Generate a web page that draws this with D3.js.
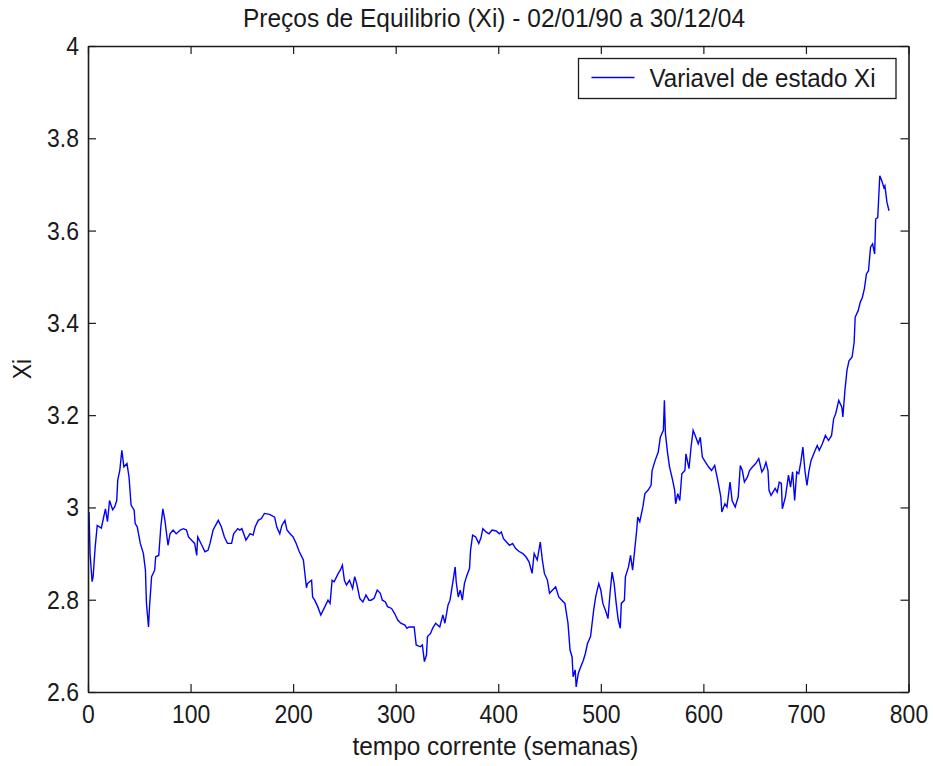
<!DOCTYPE html>
<html>
<head>
<meta charset="utf-8">
<script src="https://cdn.jsdelivr.net/npm/d3@7"></script>
<style>
  html, body { margin: 0; padding: 0; background: #fff; }
  #chart { width: 933px; height: 766px; }
  text { font-family: "Liberation Sans", Arial, sans-serif; }
</style>
</head>
<body>
<div id="chart"></div>
<script>
// semana (eixo x) e valor de Xi
const weeks = [0,1,2,4,5,7,9,13,15,17,19,21,24,26,28,29,31,33,35,38,40,42,45,46,48,51,54,56,57,59,60,62,65,66,69,71,73,75,78,80,83,86,90,93,96,98,101,104,106,107,111,114,117,119,122,127,130,133,136,140,142,146,148,150,153,154,158,161,163,166,169,172,177,182,184,187,189,192,194,197,200,203,206,210,213,214,216,218,219,221,224,227,231,234,236,238,240,244,246,248,250,252,255,258,260,262,265,268,271,274,276,279,282,285,287,290,292,296,299,302,305,309,311,313,318,320,324,326,328,330,331,334,336,339,343,346,348,351,353,355,356,358,359,361,363,365,367,369,372,373,375,378,381,383,385,388,391,394,398,401,403,405,408,411,414,417,420,424,427,430,433,435,438,441,443,445,448,450,453,456,459,462,465,468,470,472,473,475,476,478,481,483,485,487,490,493,495,498,500,502,505,507,509,511,513,515,517,519,520,523,524,527,529,531,533,535,536,538,541,543,546,549,550,553,556,558,561,562,563,565,567,570,572,573,575,577,579,582,583,586,588,590,592,595,597,599,602,605,608,611,614,617,618,621,623,626,628,631,634,636,638,640,643,645,648,651,654,657,659,661,663,664,666,670,672,674,676,677,680,683,685,687,689,691,693,695,697,699,701,703,705,709,711,713,716,719,722,725,727,729,732,735,736,738,740,742,745,747,748,751,753,755,757,759,761,763,765,767,768,770,772,774,776,777,779,781];
const xi = [2.96,2.99,2.90,2.839,2.85,2.914,2.961,2.955,2.976,2.997,2.969,3.015,2.995,3.001,3.015,3.059,3.080,3.124,3.088,3.095,3.066,3.005,2.994,2.965,2.958,2.922,2.900,2.864,2.792,2.741,2.785,2.850,2.864,2.893,2.896,2.958,2.997,2.972,2.918,2.943,2.951,2.943,2.951,2.954,2.951,2.936,2.929,2.922,2.896,2.936,2.918,2.904,2.907,2.922,2.951,2.972,2.958,2.936,2.922,2.922,2.943,2.954,2.951,2.954,2.936,2.929,2.943,2.940,2.958,2.972,2.976,2.987,2.985,2.979,2.958,2.943,2.961,2.972,2.951,2.943,2.936,2.922,2.904,2.886,2.826,2.835,2.839,2.842,2.806,2.799,2.785,2.767,2.785,2.799,2.792,2.842,2.839,2.857,2.864,2.875,2.842,2.832,2.842,2.824,2.850,2.835,2.803,2.795,2.810,2.799,2.799,2.803,2.821,2.814,2.799,2.795,2.785,2.781,2.770,2.756,2.749,2.745,2.738,2.741,2.741,2.702,2.698,2.702,2.666,2.680,2.720,2.727,2.738,2.749,2.741,2.767,2.749,2.788,2.799,2.828,2.842,2.871,2.839,2.806,2.821,2.799,2.835,2.850,2.868,2.907,2.940,2.936,2.922,2.933,2.954,2.947,2.943,2.951,2.949,2.943,2.947,2.933,2.925,2.918,2.922,2.911,2.905,2.900,2.893,2.882,2.857,2.900,2.886,2.925,2.886,2.857,2.842,2.814,2.821,2.828,2.806,2.799,2.792,2.749,2.691,2.676,2.633,2.648,2.611,2.640,2.658,2.669,2.684,2.705,2.720,2.777,2.806,2.835,2.821,2.792,2.774,2.759,2.814,2.860,2.835,2.792,2.756,2.738,2.792,2.799,2.850,2.871,2.896,2.864,2.907,2.951,2.979,2.969,3.001,3.030,3.037,3.048,3.080,3.102,3.120,3.152,3.167,3.232,3.160,3.120,3.088,3.059,3.037,3.008,3.030,3.015,3.073,3.080,3.116,3.084,3.131,3.167,3.156,3.138,3.152,3.109,3.098,3.088,3.080,3.091,3.059,3.023,2.990,3.008,3.001,3.055,3.015,3.001,3.023,3.091,3.080,3.055,3.066,3.080,3.088,3.095,3.106,3.077,3.084,3.098,3.080,3.037,3.026,3.041,3.033,3.055,3.052,2.997,3.023,3.070,3.044,3.077,3.015,3.077,3.073,3.098,3.131,3.080,3.048,3.080,3.102,3.124,3.134,3.124,3.138,3.156,3.145,3.156,3.192,3.203,3.232,3.217,3.196,3.253,3.297,3.318,3.326,3.358,3.412,3.427,3.445,3.455,3.474,3.506,3.513,3.564,3.571,3.549,3.625,3.628,3.719,3.708,3.693,3.697,3.661,3.643];

const xTicks = [0, 100, 200, 300, 400, 500, 600, 700, 800];
const yTicks = [2.6, 2.8, 3, 3.2, 3.4, 3.6, 3.8, 4];

const title = 'Preços de Equilibrio (Xi) - 02/01/90 a 30/12/04';
const xLabel = 'tempo corrente (semanas)';
const yLabel = 'Xi';
const legendLabel = 'Variavel de estado Xi';

function drawChart() {
  const W = 933, H = 766;
  const m = { top: 46, right: 24.5, bottom: 74, left: 88 };
  const w = W - m.left - m.right, h = H - m.top - m.bottom;
  const ink = '#1a1a1a';
  const tall = 'scale(1,1.15)'; // o texto original é mais alto que largo

  const svg = d3.select('#chart').append('svg')
    .attr('width', W).attr('height', H)
    .attr('viewBox', `0 0 ${W} ${H}`);
  svg.append('rect').attr('width', W).attr('height', H).attr('fill', '#fff');

  const g = svg.append('g').attr('transform', `translate(${m.left},${m.top})`);

  const x = d3.scaleLinear().domain([0, 800]).range([0, w]);
  const y = d3.scaleLinear().domain([2.6, 4]).range([h, 0]);

  const data = weeks.map((wk, i) => ({ week: wk, value: xi[i] }));

  // Line
  g.append('defs').append('clipPath').attr('id', 'clip')
    .append('rect').attr('width', w).attr('height', h);
  const line = d3.line().x(d => x(d.week)).y(d => y(d.value));
  g.append('path').datum(data).attr('d', line)
    .attr('clip-path', 'url(#clip)')
    .attr('fill', 'none').attr('stroke', '#0000ff')
    .attr('stroke-width', 1.4).attr('stroke-linejoin', 'miter');

  const styleAxis = sel => {
    sel.select('.domain').attr('stroke', ink).attr('stroke-width', 1.6);
    sel.selectAll('.tick line').attr('stroke', ink).attr('stroke-width', 1.2);
    sel.selectAll('text').style('fill', ink).style('font-size', '23px')
      .attr('font-family', '"Liberation Sans", Arial, sans-serif')
      .attr('transform', tall);
  };

  // X axes (ticks inward, box)
  g.append('g').attr('transform', `translate(0,${h})`)
    .call(d3.axisBottom(x).tickValues(xTicks).tickFormat(d3.format('d'))
      .tickSizeInner(-8).tickSizeOuter(0).tickPadding(11))
    .call(styleAxis);
  g.append('g')
    .call(d3.axisTop(x).tickValues(xTicks).tickFormat('')
      .tickSizeInner(-8).tickSizeOuter(0))
    .call(styleAxis);

  // Y axes
  g.append('g')
    .call(d3.axisLeft(y).tickValues(yTicks).tickFormat(d => d3.format('~g')(d))
      .tickSizeInner(-8).tickSizeOuter(0).tickPadding(9))
    .call(styleAxis);
  g.append('g').attr('transform', `translate(${w},0)`)
    .call(d3.axisRight(y).tickValues(yTicks).tickFormat('')
      .tickSizeInner(-8).tickSizeOuter(0))
    .call(styleAxis);

  // Title
  svg.append('text').attr('transform', `translate(494,27) ${tall}`)
    .attr('text-anchor', 'middle').attr('fill', ink)
    .attr('font-size', '23px')
    .attr('textLength', 502).attr('lengthAdjust', 'spacingAndGlyphs')
    .text(title);

  // X label
  svg.append('text').attr('transform', `translate(495.5,755) ${tall}`)
    .attr('text-anchor', 'middle').attr('fill', ink)
    .attr('font-size', '23px')
    .attr('textLength', 286).attr('lengthAdjust', 'spacingAndGlyphs')
    .text(xLabel);

  // Y label
  svg.append('text').attr('transform', `translate(31,369) rotate(-90) ${tall}`)
    .attr('text-anchor', 'middle').attr('fill', ink)
    .attr('font-size', '23px').text(yLabel);

  // Legend
  const lg = svg.append('g').attr('transform', 'translate(578.5,58.5)');
  lg.append('rect').attr('width', 317.5).attr('height', 40)
    .attr('fill', '#fff').attr('stroke', ink).attr('stroke-width', 1.3);
  lg.append('line').attr('x1', 13).attr('x2', 56).attr('y1', 19).attr('y2', 19)
    .attr('stroke', '#0000ff').attr('stroke-width', 1.6);
  lg.append('text').attr('transform', `translate(71,28) ${tall}`)
    .attr('fill', ink).attr('font-size', '23px')
    .attr('textLength', 226).attr('lengthAdjust', 'spacingAndGlyphs')
    .text(legendLabel);
}

drawChart();
</script>
</body>
</html>
